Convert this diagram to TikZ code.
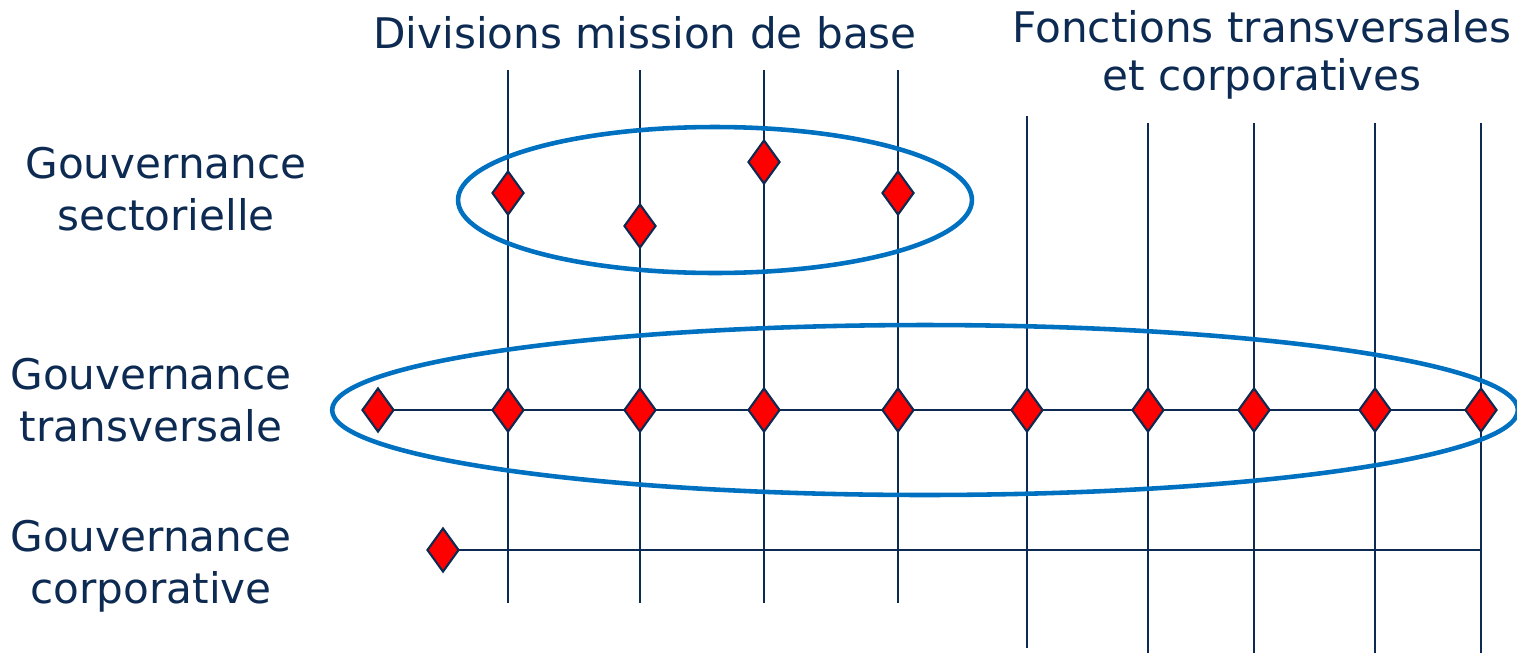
\documentclass[tikz,border=0pt]{standalone}
\usepackage{fontspec}
\setmainfont{DejaVu Sans}
\usetikzlibrary{shapes.geometric,backgrounds}
\definecolor{navy}{HTML}{0D2B52}
\definecolor{ellblue}{HTML}{0070C0}
\definecolor{dred}{HTML}{FF0000}
\tikzset{
  gridline/.style={draw=navy, line width=1.3pt},
  gem/.style={diamond, draw=navy, fill=dred, line width=1.2pt, inner sep=0pt, minimum width=0.64cm, minimum height=0.88cm},
  ring/.style={draw=ellblue, line width=2.6pt},
  lbl/.style={text=navy, font=\fontsize{24}{29.5}\selectfont, align=center, inner sep=0pt},
  hlbl/.style={text=navy, font=\fontsize{24}{27.5}\selectfont, align=center, inner sep=0pt}
}
\begin{document}
\begin{tikzpicture}[x=0.02cm, y=-0.02cm]
\useasboundingbox (0,0) rectangle (1517,653);
\clip (0,0) rectangle (1517,653);
% coordinates of vertical lines
\foreach \n/\x/\t/\b in {a/508/70/603, b/640/70/603, c/764/70/603, d/898/70/603,
  e/1027/116/648, f/1148/123/653, g/1254/123/653, h/1375/123/653, i/1481/123/653}{
  \coordinate (top\n) at (\x,\t);
  \coordinate (bot\n) at (\x,\b);
}
\coordinate (cend) at (1481,550);
% diamonds
\node[gem] (s1) at (508,193) {};
\node[gem] (s2) at (640,226) {};
\node[gem] (s3) at (764,162) {};
\node[gem] (s4) at (898,193) {};
\node[gem] (t0) at (378,410) {};
\node[gem] (t1) at (508,410) {};
\node[gem] (t2) at (640,410) {};
\node[gem] (t3) at (764,410) {};
\node[gem] (t4) at (898,410) {};
\node[gem] (t5) at (1027,410) {};
\node[gem] (t6) at (1148,410) {};
\node[gem] (t7) at (1254,410) {};
\node[gem] (t8) at (1375,410) {};
\node[gem] (t9) at (1481,410) {};
\node[gem] (c0) at (443,550) {};
% lines behind diamonds
\begin{scope}[on background layer]
\foreach \n in {a,b,c,d,e,f,g,h,i}{
  \draw[gridline] (top\n) -- (bot\n);
}
\draw[gridline] (t0.center) -- (t9.center);
\draw[gridline] (c0.center) -- (cend);
\end{scope}
% ellipses
\draw[ring] (715,200) ellipse [x radius=5.14cm, y radius=1.46cm];
\draw[ring] (925,410) ellipse [x radius=11.86cm, y radius=1.7cm];
% labels
\node[hlbl] (hdiv) at (645,33) {Divisions mission de base};
\node[hlbl] (hfon) at (1262,55) {Fonctions transversales\\et corporatives};
\node[lbl] (lsec) at (166,189) {Gouvernance\\sectorielle};
\node[lbl] (ltra) at (151,400) {Gouvernance\\transversale};
\node[lbl] (lcor) at (151,566) {Gouvernance\\corporative};
\end{tikzpicture}
\end{document}
